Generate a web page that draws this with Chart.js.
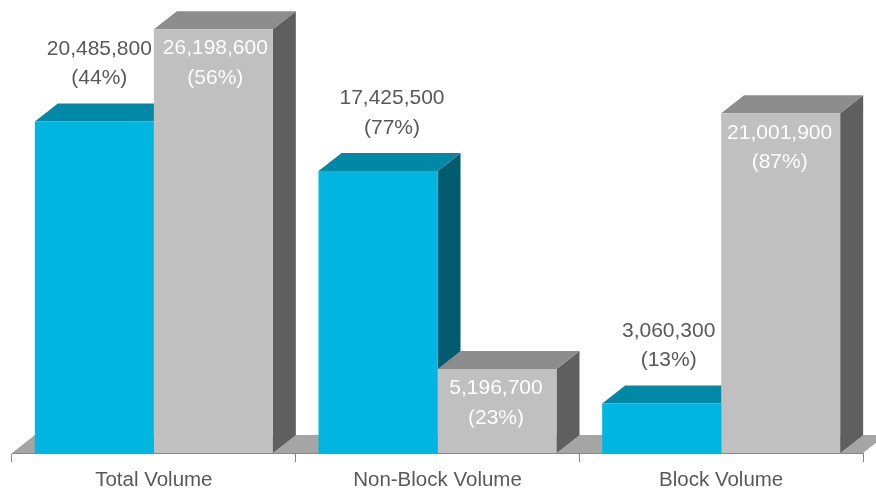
<!DOCTYPE html>
<html><head><meta charset="utf-8">
<script src="https://cdn.jsdelivr.net/npm/chart.js@4/dist/chart.umd.min.js"></script>
<style>html,body{margin:0;padding:0;background:#fff}#wrap{width:876px;height:488px}</style>
</head><body><div id="wrap"><canvas id="c" width="876" height="488"></canvas></div>
<script>
const categories = ['Total Volume', 'Non-Block Volume', 'Block Volume'];
const blueValues = [20485800, 17425500, 3060300];
const grayValues = [26198600, 5196700, 21001900];
const bluePercent = [44, 77, 13];
const grayPercent = [56, 23, 87];
const yMin = 0;
const yMax = 28000000;

const DX = 23, DY = 18;
const FONT = '"Liberation Sans", Arial, sans-serif';

function poly(ctx, pts) {
  ctx.beginPath();
  ctx.moveTo(pts[0][0], pts[0][1]);
  for (let i = 1; i < pts.length; i++) ctx.lineTo(pts[i][0], pts[i][1]);
  ctx.closePath();
  ctx.fill();
}

const threeD = {
  id: 'threeD',
  beforeDatasetsDraw(chart) {
    const ctx = chart.ctx, a = chart.chartArea;
    const b = a.bottom;
    ctx.save();
    ctx.fillStyle = '#A5A5A5';
    poly(ctx, [[a.left, b], [a.right, b], [a.right + DX, b - DY], [a.left + DX, b - DY]]);
    const metas = [chart.getDatasetMeta(0), chart.getDatasetMeta(1)];
    const faces = [['#0089A7', '#005B6F'], ['#8D8D8D', '#5F5F5F']];
    for (let i = 0; i < categories.length; i++) {
      metas.forEach((m, k) => {
        const p = m.data[i].getProps(['x', 'y', 'base', 'width'], true);
        const l = p.x - p.width / 2, r = p.x + p.width / 2;
        ctx.fillStyle = faces[k][1];
        poly(ctx, [[r, p.y], [r + DX, p.y - DY], [r + DX, p.base - DY], [r, p.base]]);
        ctx.fillStyle = faces[k][0];
        poly(ctx, [[l, p.y], [r, p.y], [r + DX, p.y - DY], [l + DX, p.y - DY]]);
      });
    }
    ctx.restore();
  },
  afterDatasetsDraw(chart, args, opts) {
    const ctx = chart.ctx;
    ctx.save();
    ctx.font = '21px ' + FONT;
    ctx.textAlign = 'center';
    ctx.textBaseline = 'middle';
    const fmt = v => v.toLocaleString('en-US');
    const m0 = chart.getDatasetMeta(0), m1 = chart.getDatasetMeta(1);
    for (let i = 0; i < categories.length; i++) {
      const p = m0.data[i].getProps(['x', 'y'], true);
      ctx.fillStyle = '#595959';
      const bx = p.x + opts.blueOffsetX[i];
      ctx.fillText(fmt(blueValues[i]), bx, p.y - 72.5);
      ctx.fillText('(' + bluePercent[i] + '%)', bx, p.y - 43);
      const q = m1.data[i].getProps(['x', 'y'], true);
      ctx.fillStyle = '#FFFFFF';
      const gx = q.x + opts.grayOffsetX[i];
      ctx.fillText(fmt(grayValues[i]), gx, q.y + 19.5);
      ctx.fillText('(' + grayPercent[i] + '%)', gx, q.y + 49);
    }
    ctx.restore();
  }
};

new Chart(document.getElementById('c'), {
  type: 'bar',
  data: {
    labels: categories,
    datasets: [
      { label: 'Series 1', data: blueValues, backgroundColor: '#00B6E0', borderWidth: 0,
        categoryPercentage: 0.839, barPercentage: 1.0 },
      { label: 'Series 2', data: grayValues, backgroundColor: '#C0C0C0', borderWidth: 0,
        categoryPercentage: 0.839, barPercentage: 1.0 }
    ]
  },
  options: {
    responsive: false,
    devicePixelRatio: 1,
    animation: false,
    layout: { padding: { left: 12, right: 13, top: 0, bottom: 0 } },
    plugins: {
      legend: { display: false },
      tooltip: { enabled: false },
      threeD: { blueOffsetX: [5, 14, 7], grayOffsetX: [2, -1, -1] }
    },
    scales: {
      x: {
        grid: { display: true, drawOnChartArea: false, drawTicks: true, tickLength: 9, color: '#878787', offset: true },
        border: { display: true, color: '#878787', width: 1 },
        ticks: { color: '#595959', font: { family: FONT, size: 20.5 }, padding: 6.5, maxRotation: 0 },
        afterFit(s) { s.height = 35; }
      },
      y: { display: false, min: yMin, max: yMax }
    }
  },
  plugins: [threeD]
});
</script>
</body></html>
